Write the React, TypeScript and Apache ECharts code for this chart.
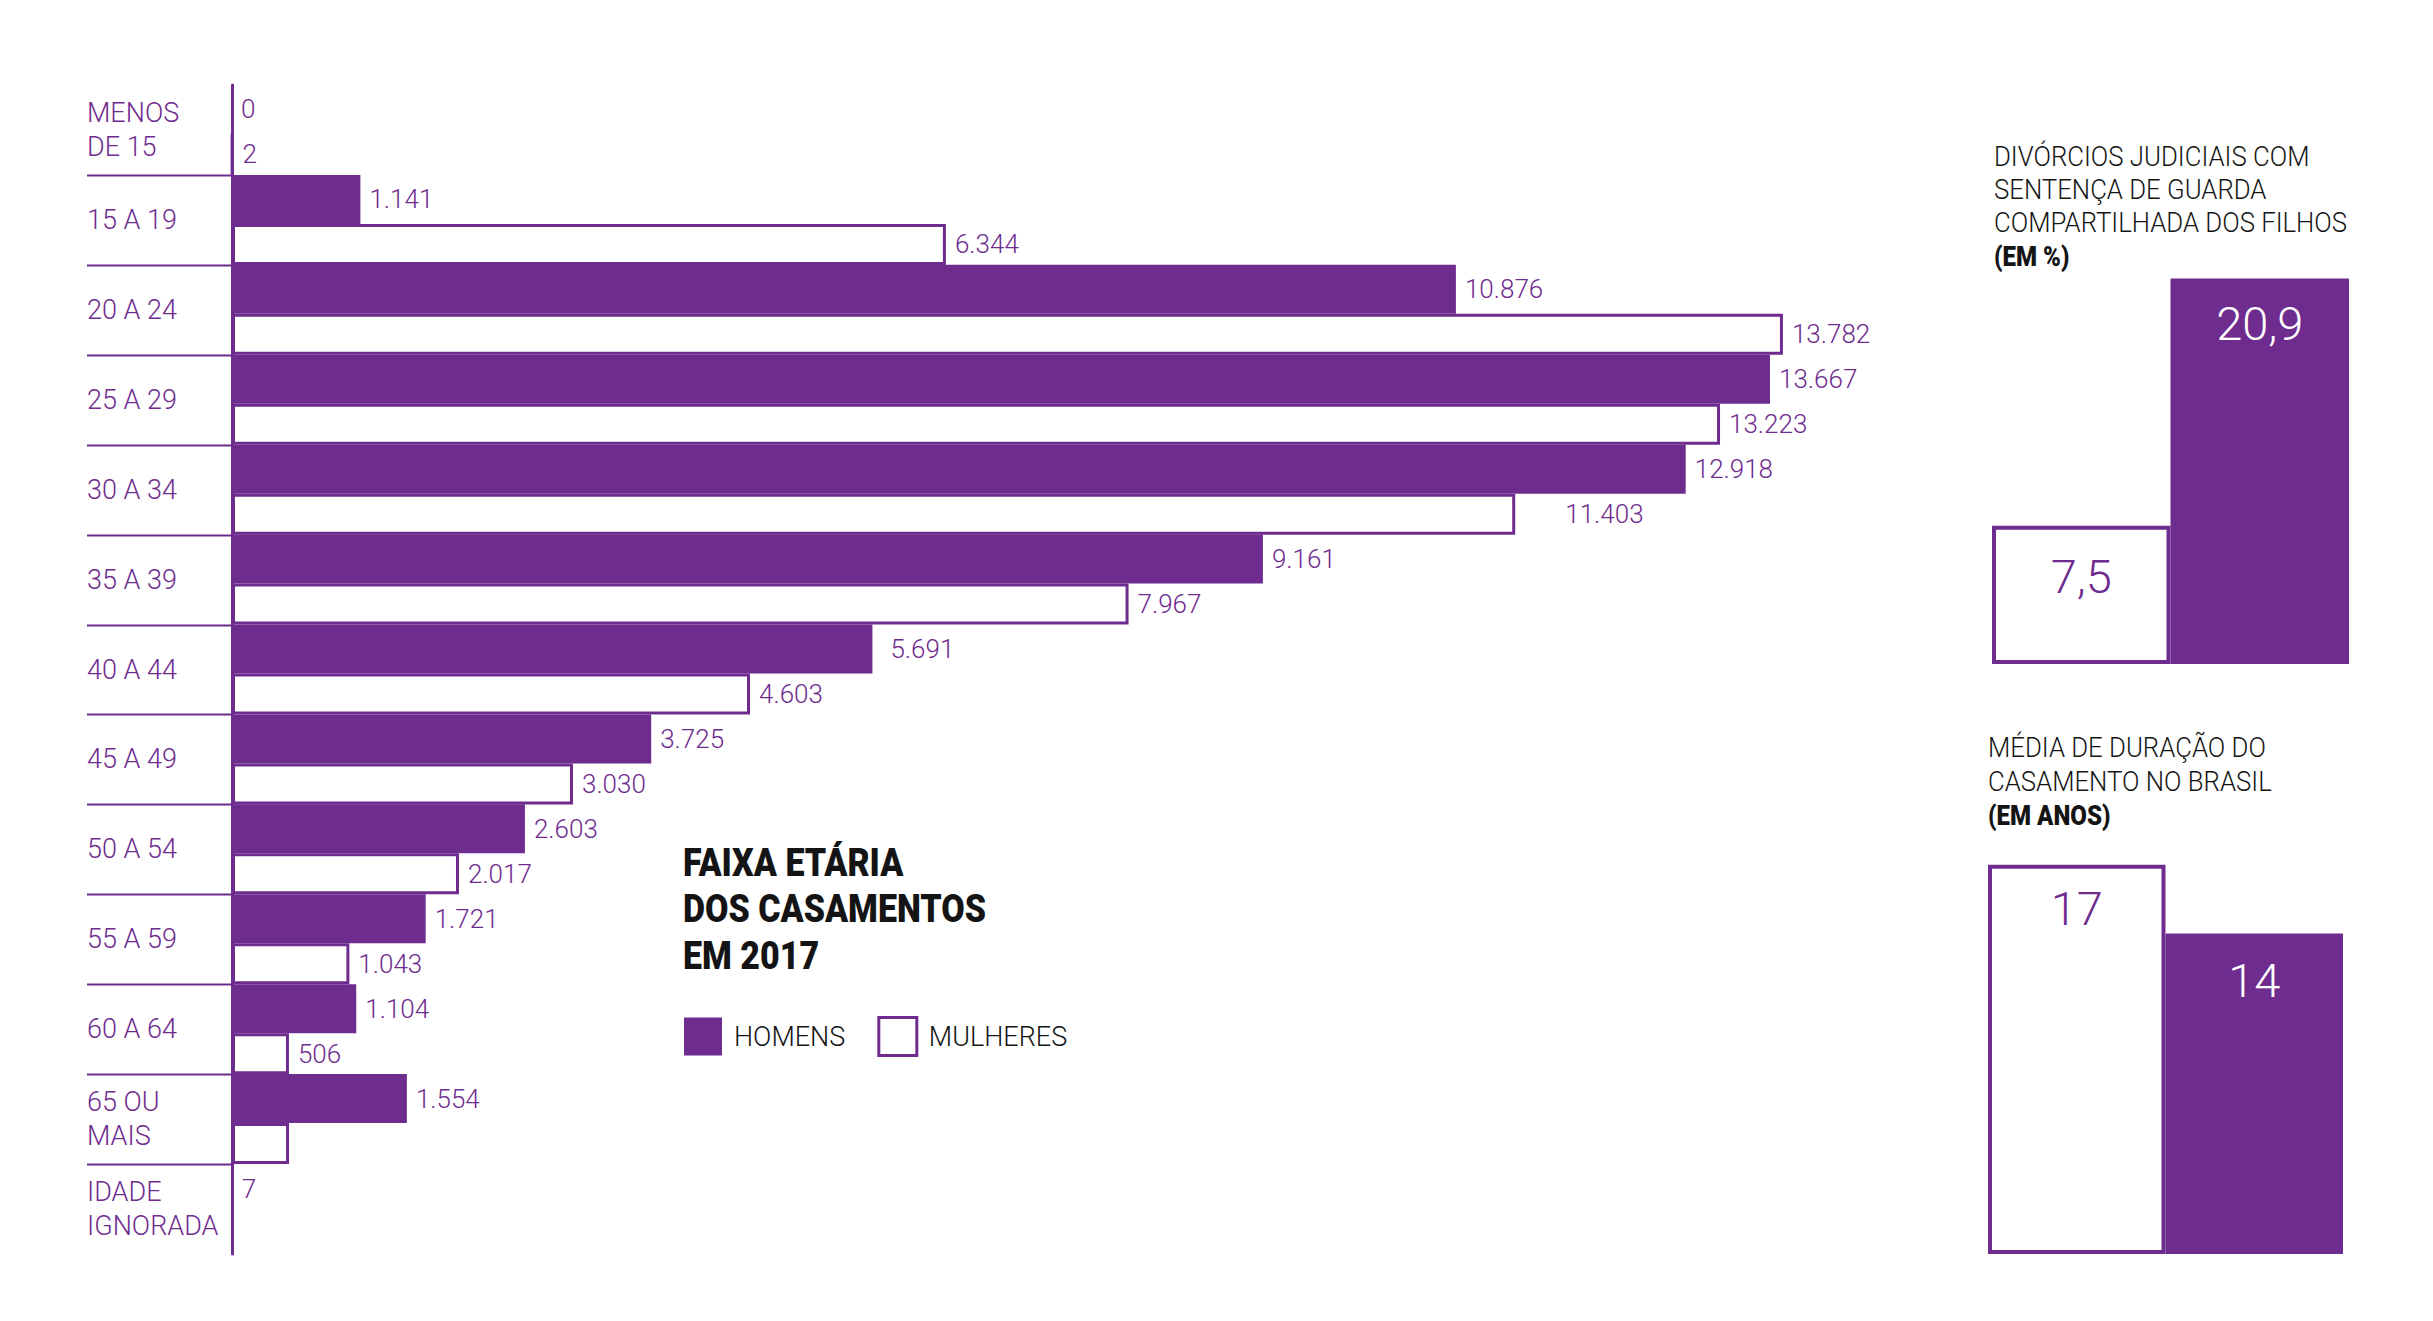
import React, { useEffect, useRef } from "react";
import * as echarts from "echarts";

// Faixa etária dos casamentos em 2017
const categories = [
  "MENOS\nDE 15",
  "15 A 19",
  "20 A 24",
  "25 A 29",
  "30 A 34",
  "35 A 39",
  "40 A 44",
  "45 A 49",
  "50 A 54",
  "55 A 59",
  "60 A 64",
  "65 OU\nMAIS",
  "IDADE\nIGNORADA",
];
const homens = [0, 1141, 10876, 13667, 12918, 9161, 5691, 3725, 2603, 1721, 1104, 1554, 7];
// the 65+ bar carries no printed number; its length is an estimate
const mulheres: (number | null)[] = [2, 6344, 13782, 13223, 11403, 7967, 4603, 3030, 2017, 1043, 506, 507, null];
const mulheresSemRotulo = [11];

const titleLines = ["FAIXA ETÁRIA", "DOS CASAMENTOS", "EM 2017"];
const legendNames = ["HOMENS", "MULHERES"];

// Divórcios judiciais com guarda compartilhada (em %)
const guardaTitle = ["DIVÓRCIOS JUDICIAIS COM", "SENTENÇA DE GUARDA", "COMPARTILHADA DOS FILHOS"];
const guardaUnit = "(EM %)";
const guardaValues = [7.5, 20.9];

// Média de duração do casamento (em anos)
const duracaoTitle = ["MÉDIA DE DURAÇÃO DO", "CASAMENTO NO BRASIL"];
const duracaoUnit = "(EM ANOS)";
const duracaoValues = [17, 14];

const PURPLE = "#6F2C8F";
const INK = "#141414";
const FONT = 'Roboto, "Liberation Sans", sans-serif';
const LIGHT = 300;

const fmtThousands = (v: number) => String(v).replace(/\B(?=(\d{3})+(?!\d))/g, ".");
const fmtDecimal = (v: number) => String(v).replace(".", ",");

function textLines(
  idPrefix: string,
  lines: string[],
  x: number,
  y0: number,
  step: number,
  size: number,
  weight: string | number,
  scaleX: number
) {
  return lines.map((t, i) => ({
    type: "text",
    id: `${idPrefix}-${i}`,
    x,
    y: y0 + i * step,
    scaleX,
    style: {
      text: t,
      fill: INK,
      fontFamily: FONT,
      fontSize: size,
      fontWeight: weight,
      verticalAlign: "middle",
      align: "left",
    },
  }));
}

export default function App() {
  const ref = useRef<HTMLDivElement>(null);

  useEffect(() => {
    if (!ref.current) return;
    const chart = echarts.init(ref.current, null, { renderer: "svg" });

    const labelDistance = (i: number, serie: "h" | "m") => {
      if (serie === "m" && i === 4) return 50;
      if (serie === "h" && i === 6) return 18;
      return 9;
    };

    const homensData = homens.map((v, i) => ({
      value: v,
      label: { distance: labelDistance(i, "h") },
    }));
    const mulheresData = mulheres.map((v, i) =>
      v === null
        ? "-"
        : {
            value: v,
            label: { show: !mulheresSemRotulo.includes(i), distance: labelDistance(i, "m") },
          }
    );

    const valueLabel = {
      show: true,
      position: "right",
      color: PURPLE,
      fontFamily: FONT,
      fontWeight: LIGHT,
      fontSize: 26,
      formatter: (p: any) => fmtThousands(p.value),
    };

    const panelLabel = {
      show: true,
      position: "insideTop",
      fontFamily: FONT,
      fontWeight: LIGHT,
      fontSize: 47,
      formatter: (p: any) => fmtDecimal(p.value),
    };

    const option: any = {
      animation: false,
      backgroundColor: "#ffffff",
      textStyle: { fontFamily: FONT },
      grid: [
        { left: 232, top: 85, width: 1688, height: 1169 },
        { left: 1992, top: 203, width: 357, height: 461 },
        { left: 1988, top: 796, width: 355, height: 458 },
      ],
      xAxis: [
        { gridIndex: 0, type: "value", min: 0, max: 15000, show: false },
        { gridIndex: 1, type: "category", data: ["a", "b"], show: false },
        { gridIndex: 2, type: "category", data: ["a", "b"], show: false },
      ],
      yAxis: [
        {
          gridIndex: 0,
          type: "category",
          inverse: true,
          data: categories,
          axisLine: { show: true, lineStyle: { color: PURPLE, width: 3 } },
          axisTick: { show: false },
          splitLine: { show: false },
          axisLabel: {
            align: "left",
            margin: 145,
            color: PURPLE,
            fontFamily: FONT,
            fontWeight: LIGHT,
            fontSize: 27,
            lineHeight: 34,
          },
        },
        { gridIndex: 1, type: "value", min: 0, max: 25, show: false },
        { gridIndex: 2, type: "value", min: 0, max: 20, show: false },
      ],
      legend: {
        left: 684,
        top: 1016,
        padding: 0,
        itemWidth: 38,
        itemHeight: 38,
        itemGap: 32,
        icon: "rect",
        data: [
          { name: legendNames[0], itemStyle: { color: PURPLE, borderWidth: 0 } },
          { name: legendNames[1], itemStyle: { color: "#ffffff", borderColor: PURPLE, borderWidth: 3 } },
        ],
        textStyle: { color: INK, fontFamily: FONT, fontWeight: LIGHT, fontSize: 27, padding: [0, 0, 0, 7] },
        selectedMode: false,
      },
      series: [
        {
          name: legendNames[0],
          type: "bar",
          xAxisIndex: 0,
          yAxisIndex: 0,
          data: homensData,
          barGap: "0%",
          barWidth: 49,
          itemStyle: { color: PURPLE },
          label: valueLabel,
          z: 2,
        },
        {
          name: legendNames[1],
          type: "bar",
          xAxisIndex: 0,
          yAxisIndex: 0,
          data: mulheresData,
          barGap: "0%",
          barWidth: 41,
          itemStyle: { color: "#ffffff", borderColor: PURPLE, borderWidth: 3 },
          label: valueLabel,
          z: 3,
        },
        {
          name: "guarda",
          type: "bar",
          xAxisIndex: 1,
          yAxisIndex: 1,
          barCategoryGap: "0%",
          data: [
            {
              value: guardaValues[0],
              itemStyle: { color: "#ffffff", borderColor: PURPLE, borderWidth: 4 },
              label: { color: PURPLE, distance: 27 },
            },
            { value: guardaValues[1], itemStyle: { color: PURPLE }, label: { color: "#ffffff", distance: 21 } },
          ],
          label: panelLabel,
        },
        {
          name: "duracao",
          type: "bar",
          xAxisIndex: 2,
          yAxisIndex: 2,
          barCategoryGap: "0%",
          data: [
            {
              value: duracaoValues[0],
              itemStyle: { color: "#ffffff", borderColor: PURPLE, borderWidth: 4 },
              label: { color: PURPLE, distance: 20 },
            },
            { value: duracaoValues[1], itemStyle: { color: PURPLE }, label: { color: "#ffffff", distance: 24 } },
          ],
          label: panelLabel,
        },
      ],
    };

    chart.setOption(option);

    // separators between age groups, left of the axis, placed from the category scale
    const axisX = chart.convertToPixel({ xAxisIndex: 0 }, 0) as number;
    const centers = categories.map((_, i) => chart.convertToPixel({ yAxisIndex: 0 }, i) as number);
    const separators = centers.slice(0, -1).map((c, i) => {
      const y = Math.round((c + centers[i + 1]) / 2) + 0.5;
      return {
        type: "line",
        id: `sep-${i}`,
        shape: { x1: axisX - 145, y1: y, x2: axisX, y2: y },
        style: { stroke: PURPLE, lineWidth: 2 },
        z: 5,
      };
    });

    const texts = [
      ...textLines("title", titleLines, 683, 863, 46.5, 38, 900, 0.895),
      ...textLines("guarda", guardaTitle, 1994, 157, 33, 28, LIGHT, 0.92),
      ...textLines("guarda-unit", [guardaUnit], 1994, 256, 33, 28, 900, 0.86),
      ...textLines("duracao", duracaoTitle, 1988, 748, 33.5, 28, LIGHT, 0.92),
      ...textLines("duracao-unit", [duracaoUnit], 1988, 815, 33, 28, 900, 0.86),
    ];

    chart.setOption({ graphic: { elements: [...separators, ...texts] } });

    return () => chart.dispose();
  }, []);

  return (
    <div
      ref={ref}
      style={{ position: "fixed", left: 0, top: 0, width: 2433, height: 1321, background: "#ffffff" }}
    />
  );
}
